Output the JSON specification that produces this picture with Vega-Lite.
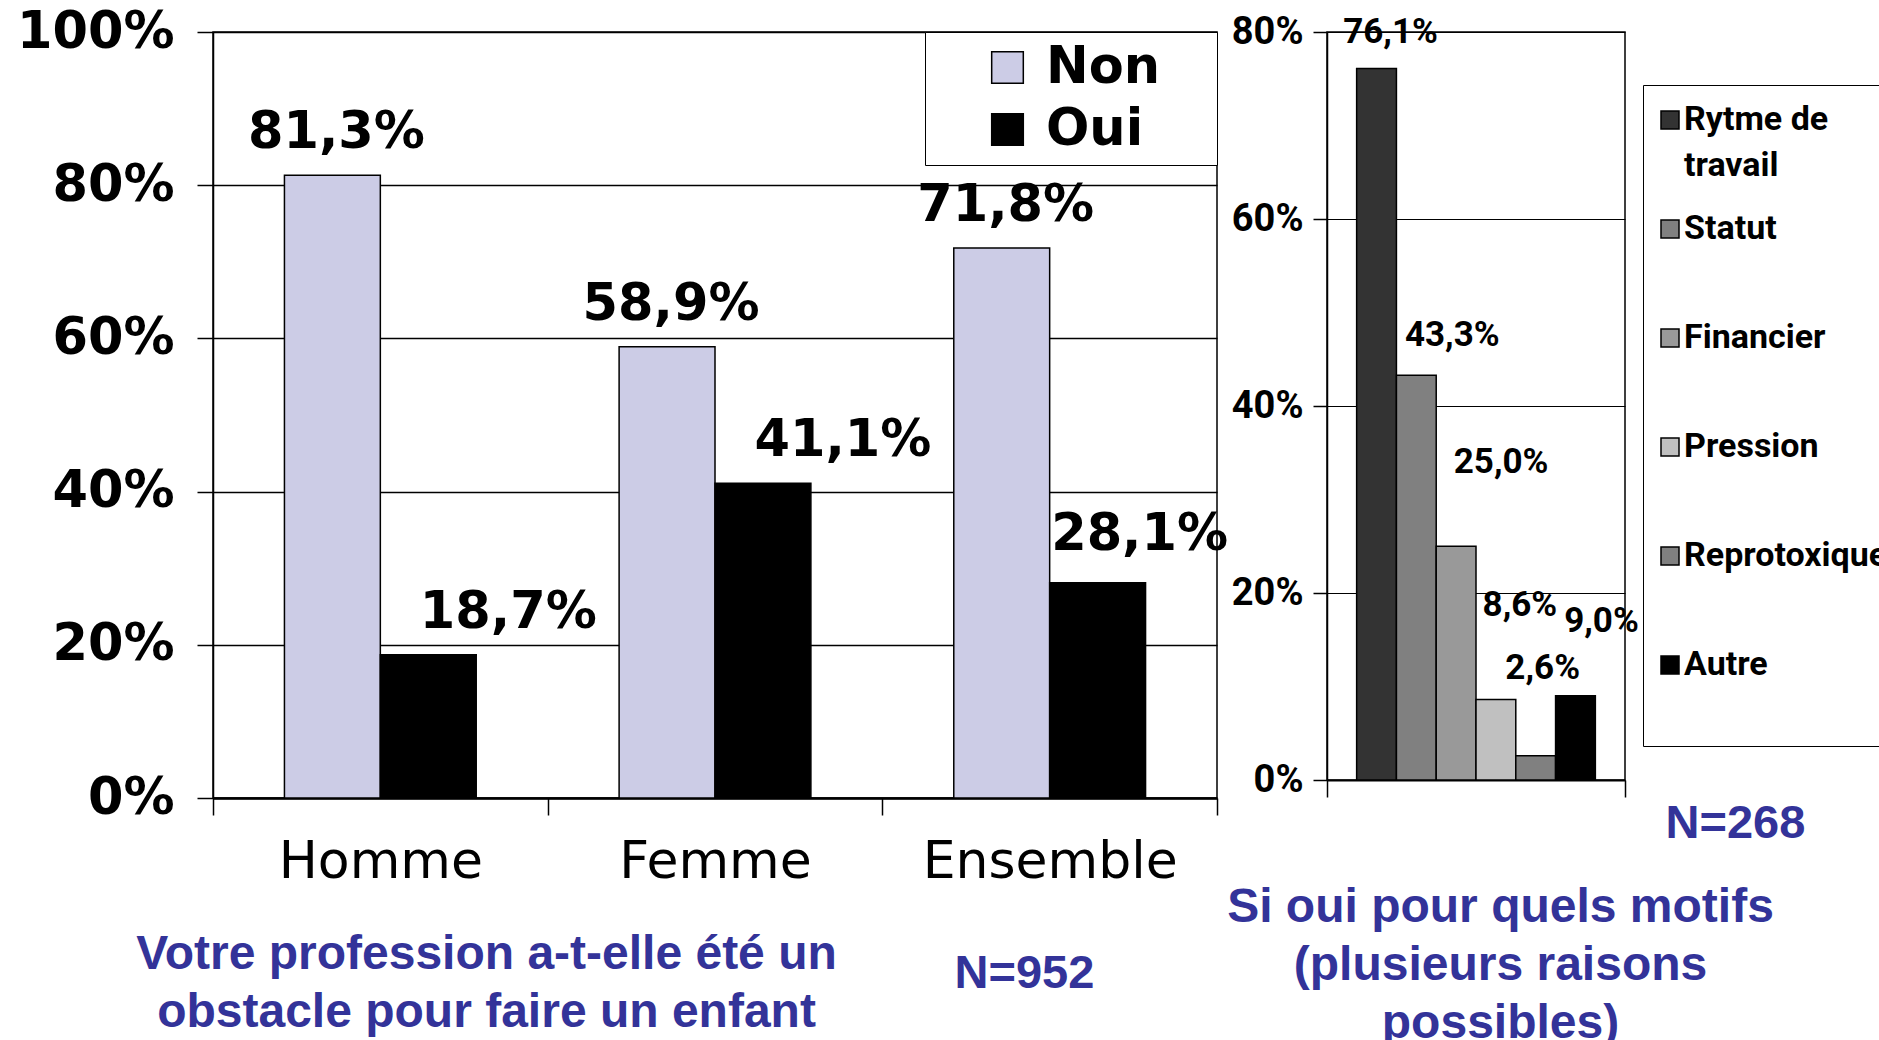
{
  "$schema": "https://vega.github.io/schema/vega-lite/v6.json",
  "autosize": {"type": "none"},
  "padding": {"left": 213, "top": 32, "right": 1666, "bottom": 1008},
  "background": "white",
  "bounds": "flush",
  "spacing": 110,
  "resolve": {
    "scale": {"color": "independent", "x": "independent", "y": "independent", "xOffset": "independent"},
    "legend": {"color": "independent"}
  },
  "config": {
    "locale": {"number": {"decimal": ",", "thousands": " ", "grouping": [3], "currency": ["", " €"]}},
    "view": {"stroke": "#000000", "strokeWidth": 1.5},
    "axis": {"domainColor": "#000000", "tickColor": "#000000", "gridColor": "#000000", "labelColor": "#000000", "titleColor": "#333399"}
  },
  "hconcat": [
    {
      "width": 1004,
      "height": 766,
      "data": {"values": [
        {"sexe": "Homme", "reponse": "Non", "valeur": 0.813},
        {"sexe": "Homme", "reponse": "Oui", "valeur": 0.187},
        {"sexe": "Femme", "reponse": "Non", "valeur": 0.589},
        {"sexe": "Femme", "reponse": "Oui", "valeur": 0.411},
        {"sexe": "Ensemble", "reponse": "Non", "valeur": 0.718},
        {"sexe": "Ensemble", "reponse": "Oui", "valeur": 0.281}
      ]},
      "encoding": {
        "x": {
          "field": "sexe", "type": "nominal", "sort": ["Homme", "Femme", "Ensemble"],
          "scale": {"paddingInner": 0, "paddingOuter": 0},
          "axis": {
            "title": ["Votre profession a-t-elle été un", "obstacle pour faire un enfant"],
            "titleX": 273, "titleY": 170, "titleAlign": "center", "titleBaseline": "alphabetic",
            "titleFont": "Liberation Sans", "titleFontSize": 48, "titleFontWeight": "bold", "titleColor": "#333399", "titleLineHeight": 58,
            "labelAngle": 0, "labelFont": "DejaVu Sans", "labelFontSize": 52, "labelFontWeight": "normal", "labelPadding": 21, "labelLimit": 500,
            "tickBand": "extent", "tickSize": 17, "tickWidth": 1.5, "domainWidth": 2.5
          }
        },
        "xOffset": {"field": "reponse", "type": "nominal", "sort": ["Non", "Oui"], "scale": {"paddingInner": 0, "paddingOuter": 0.745}},
        "y": {
          "field": "valeur", "type": "quantitative", "scale": {"domain": [0, 1]},
          "axis": {
            "values": [0, 0.2, 0.4, 0.6, 0.8, 1], "format": ".0%",
            "title": "N=952", "titleAngle": 0, "titleX": 811, "titleY": 955, "titleAlign": "center", "titleBaseline": "alphabetic",
            "titleFont": "Liberation Sans", "titleFontSize": 47, "titleFontWeight": "bold", "titleColor": "#333399",
            "labelFont": "DejaVu Sans", "labelFontSize": 51, "labelFontWeight": "bold", "labelPadding": 23,
            "tickSize": 16, "tickWidth": 1.5, "domainWidth": 1.5, "grid": true, "gridWidth": 1.5
          }
        }
      },
      "layer": [
        {
          "mark": {"type": "bar", "stroke": "#000000", "strokeWidth": 1.5},
          "encoding": {
            "color": {
              "field": "reponse", "type": "nominal",
              "scale": {"domain": ["Non", "Oui"], "range": ["#CCCCE6", "#000000"]},
              "legend": {
                "orient": "none", "legendX": 712, "legendY": 0, "direction": "vertical",
                "title": "\u00a0", "titleOrient": "right", "titlePadding": 47, "titleFontSize": 2,
                "strokeColor": "#000000", "fillColor": "#ffffff", "padding": 10,
                "symbolType": "square", "symbolSize": 1000, "symbolStrokeColor": "#000000", "symbolStrokeWidth": 1.5, "symbolOffset": 47,
                "labelFont": "DejaVu Sans", "labelFontSize": 51, "labelFontWeight": "bold", "labelColor": "#000000", "labelOffset": 13,
                "rowPadding": 10
              }
            }
          }
        },
        {
          "transform": [{"filter": "datum.reponse === 'Non'"}],
          "mark": {"type": "text", "font": "DejaVu Sans", "fontWeight": "bold", "fontSize": 51, "dx": 4, "dy": -42, "baseline": "middle", "color": "#000000"},
          "encoding": {"text": {"field": "valeur", "type": "quantitative", "format": ".1%"}}
        },
        {
          "transform": [{"filter": "datum.reponse === 'Oui' && datum.sexe !== 'Ensemble'"}],
          "mark": {"type": "text", "font": "DejaVu Sans", "fontWeight": "bold", "fontSize": 51, "dx": 80, "dy": -42, "baseline": "middle", "color": "#000000"},
          "encoding": {"text": {"field": "valeur", "type": "quantitative", "format": ".1%"}}
        },
        {
          "transform": [{"filter": "datum.reponse === 'Oui' && datum.sexe === 'Ensemble'"}],
          "mark": {"type": "text", "font": "DejaVu Sans", "fontWeight": "bold", "fontSize": 51, "dx": 42, "dy": -48, "baseline": "middle", "color": "#000000"},
          "encoding": {"text": {"field": "valeur", "type": "quantitative", "format": ".1%"}}
        }
      ]
    },
    {
      "width": 298,
      "height": 748,
      "data": {"values": [
        {"groupe": "motifs", "motif": "Rytme de travail", "valeur": 0.761},
        {"groupe": "motifs", "motif": "Statut", "valeur": 0.433},
        {"groupe": "motifs", "motif": "Financier", "valeur": 0.25},
        {"groupe": "motifs", "motif": "Pression", "valeur": 0.086},
        {"groupe": "motifs", "motif": "Reprotoxique", "valeur": 0.026},
        {"groupe": "motifs", "motif": "Autre", "valeur": 0.09}
      ]},
      "encoding": {
        "x": {
          "field": "groupe", "type": "nominal",
          "scale": {"paddingInner": 0, "paddingOuter": 0},
          "axis": {
            "labels": false,
            "title": ["Si oui pour quels motifs", "(plusieurs raisons", "possibles)"],
            "titleX": 173, "titleY": 141, "titleAlign": "center", "titleBaseline": "alphabetic",
            "titleFont": "Liberation Sans", "titleFontSize": 48, "titleFontWeight": "bold", "titleColor": "#333399", "titleLineHeight": 58,
            "tickBand": "extent", "tickSize": 17, "tickWidth": 1.5, "domainWidth": 2
          }
        },
        "xOffset": {
          "field": "motif", "type": "nominal",
          "sort": ["Rytme de travail", "Statut", "Financier", "Pression", "Reprotoxique", "Autre"],
          "scale": {"paddingInner": 0, "paddingOuter": 0.745}
        },
        "y": {
          "field": "valeur", "type": "quantitative", "scale": {"domain": [0, 0.8]},
          "axis": {
            "values": [0, 0.2, 0.4, 0.6, 0.8], "format": ".0%",
            "title": "N=268", "titleAngle": 0, "titleX": 408, "titleY": 805, "titleAlign": "center", "titleBaseline": "alphabetic",
            "titleFont": "Liberation Sans", "titleFontSize": 47, "titleFontWeight": "bold", "titleColor": "#333399",
            "labelFont": "Roboto", "labelFontSize": 38, "labelFontWeight": "bold", "labelPadding": 10,
            "tickSize": 14, "tickWidth": 1.5, "domainWidth": 1.5, "grid": true, "gridWidth": 1.2
          }
        }
      },
      "layer": [
        {
          "mark": {"type": "bar", "stroke": "#000000", "strokeWidth": 1.5},
          "encoding": {
            "color": {
              "field": "motif", "type": "nominal",
              "sort": ["Rytme de travail", "Statut", "Financier", "Pression", "Reprotoxique", "Autre"],
              "scale": {"domain": ["Rytme de travail", "Statut", "Financier", "Pression", "Reprotoxique", "Autre"], "range": ["#333333", "#808080", "#999999", "#C0C0C0", "#808080", "#000000"]},
              "legend": {
                "orient": "none", "legendX": 316, "legendY": 53, "direction": "vertical",
                "title": "\u00a0", "titleOrient": "bottom", "titlePadding": 44, "titleFontSize": 2,
                "strokeColor": "#000000", "fillColor": "#ffffff", "padding": 18, "gridAlign": "all",
                "symbolType": "square", "symbolSize": 324, "symbolStrokeColor": "#000000", "symbolStrokeWidth": 1.5, "symbolOffset": -8,
                "labelFont": "Roboto", "labelFontSize": 34, "labelFontWeight": "bold", "labelColor": "#000000",
                "labelOffset": -3, "rowPadding": 29, "labelLimit": 400,
                "labelExpr": "datum.label === 'Rytme de travail' ? ['Rytme de', 'travail'] : datum.label",
                "encode": {"labels": {"update": {"lineHeight": {"value": 46}}}}
              }
            }
          }
        },
        {
          "transform": [{"filter": "datum.motif === 'Rytme de travail'"}],
          "mark": {"type": "text", "font": "Roboto", "fontWeight": "bold", "fontSize": 35, "dx": 14, "dy": -36, "baseline": "middle", "color": "#000000"},
          "encoding": {"text": {"field": "valeur", "type": "quantitative", "format": ".1%"}}
        },
        {
          "transform": [{"filter": "datum.motif === 'Statut'"}],
          "mark": {"type": "text", "font": "Roboto", "fontWeight": "bold", "fontSize": 35, "dx": 36, "dy": -40, "baseline": "middle", "color": "#000000"},
          "encoding": {"text": {"field": "valeur", "type": "quantitative", "format": ".1%"}}
        },
        {
          "transform": [{"filter": "datum.motif === 'Financier'"}],
          "mark": {"type": "text", "font": "Roboto", "fontWeight": "bold", "fontSize": 35, "dx": 45, "dy": -84, "baseline": "middle", "color": "#000000"},
          "encoding": {"text": {"field": "valeur", "type": "quantitative", "format": ".1%"}}
        },
        {
          "transform": [{"filter": "datum.motif === 'Pression'"}],
          "mark": {"type": "text", "font": "Roboto", "fontWeight": "bold", "fontSize": 35, "dx": 24, "dy": -95, "baseline": "middle", "color": "#000000"},
          "encoding": {"text": {"field": "valeur", "type": "quantitative", "format": ".1%"}}
        },
        {
          "transform": [{"filter": "datum.motif === 'Reprotoxique'"}],
          "mark": {"type": "text", "font": "Roboto", "fontWeight": "bold", "fontSize": 35, "dx": 7, "dy": -88, "baseline": "middle", "color": "#000000"},
          "encoding": {"text": {"field": "valeur", "type": "quantitative", "format": ".1%"}}
        },
        {
          "transform": [{"filter": "datum.motif === 'Autre'"}],
          "mark": {"type": "text", "font": "Roboto", "fontWeight": "bold", "fontSize": 35, "dx": 26, "dy": -75, "baseline": "middle", "color": "#000000"},
          "encoding": {"text": {"field": "valeur", "type": "quantitative", "format": ".1%"}}
        }
      ]
    }
  ]
}
